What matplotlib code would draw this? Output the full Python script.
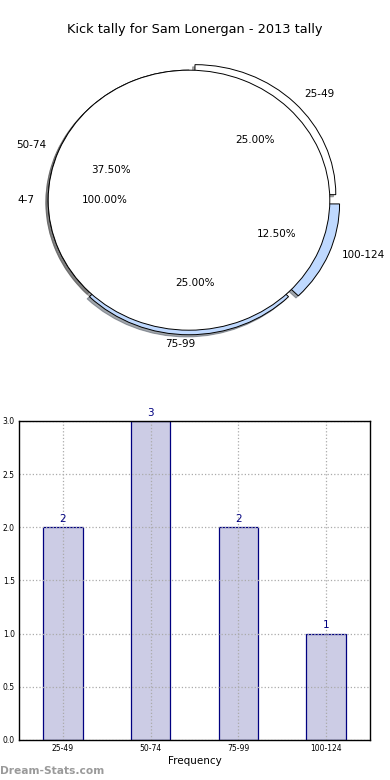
import matplotlib
matplotlib.use("Agg")
import matplotlib.pyplot as plt
import numpy as np

# data
title = "Kick tally for Sam Lonergan - 2013 tally"
ring_labels = ["50-74", "75-99", "100-124", "25-49"]
ring_counts = [3, 2, 1, 2]
ring_explode = [0.0, 0.035, 0.075, 0.06]
ring_colors = ["white", "#bfd9ff", "#bfd9ff", "white"]
core_labels = ["4-7"]
core_counts = [1]

bar_labels = ["25-49", "50-74", "75-99", "100-124"]
bar_counts = [2, 3, 2, 1]

fig = plt.figure(figsize=(3.9, 7.8), dpi=100)
fig.patch.set_facecolor("white")

##pie (top)
ax1 = fig.add_axes([0.0333, 0.535, 0.9026, 0.4167])
wp = dict(edgecolor="black", linewidth=0.7)
tp = dict(fontsize=7.5, color="black")
shd = dict(ox=-0.012, oy=-0.012, shade=0.65)
w, lab, pct = ax1.pie(ring_counts, labels=ring_labels, explode=ring_explode, colors=ring_colors,
                      startangle=90, shadow=shd, autopct="%1.2f%%", wedgeprops=wp, textprops=tp)
lab[1].set_ha("center")
lab[1].set_x(lab[1].get_position()[0] - 0.06)
lab[1].set_y(lab[1].get_position()[1] + 0.03)
lab[2].set_y(lab[2].get_position()[1] + 0.03)
pct[1].set_x(pct[1].get_position()[0] + 0.04)
ax1.pie(core_counts, labels=core_labels, colors=["white"], startangle=0,
        shadow=shd, autopct="%1.2f%%", wedgeprops=wp, textprops=tp)
ax1.set_aspect("auto")
ax1.set_xlim(-1.25, 1.25)
ax1.set_ylim(-1.25, 1.25)
ax1.axis("off")
fig.text(0.5, 1 - 30 / 780, title, ha="center", va="center", fontsize=9.3)

##bars (bottom)
ax2 = fig.add_axes([0.0487, 0.0513, 0.9, 0.409])
x = np.arange(len(bar_labels))
bars = ax2.bar(x, bar_counts, width=0.45, color="#ccccE5", edgecolor="navy", linewidth=0.9, zorder=2)
for b, v in zip(bars, bar_counts):
    ax2.text(b.get_x() + b.get_width() / 2, v + 0.03, str(v), ha="center", va="bottom",
             fontsize=7.5, color="navy")
ax2.set_xlim(-0.5, 3.5)
ax2.set_ylim(0, 3.0)
ax2.set_xticks(x)
ax2.set_xticklabels(bar_labels)
ax2.set_yticks(np.arange(0, 3.01, 0.5))
ax2.tick_params(labelsize=5.5, length=0, pad=3)
ax2.grid(True, linestyle=":", color="#aaaaaa", linewidth=0.9, zorder=3)
ax2.set_axisbelow(False)
for s in ax2.spines.values():
    s.set_linewidth(1.0)
    s.set_zorder(4)
ax2.set_xlabel("Frequency", fontsize=7.5, labelpad=2)

fig.text(0.0, 1 - 771 / 780, "Dream-Stats.com", ha="left", va="center",
         fontsize=7.7, color="#9a9a9a", fontweight="bold")

fig.savefig("out.png", dpi=100)
